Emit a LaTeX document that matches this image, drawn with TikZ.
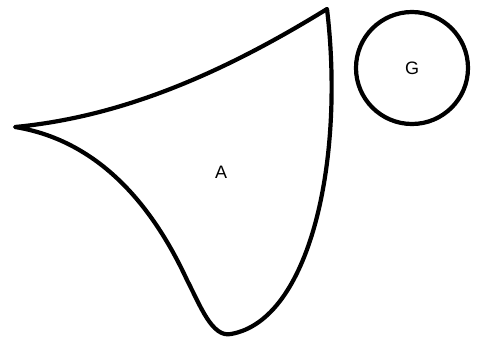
\documentclass[tikz,border=0pt]{standalone}
\usepackage{fontspec}
\setmainfont{Liberation Sans}
\begin{document}
\begin{tikzpicture}[x=1pt,y=-1pt,
  outline/.style={line width=4.2pt,line join=round,line cap=round},
  lbl/.style={font=\fontsize{18}{20}\selectfont,inner sep=0pt}]
\useasboundingbox (0,0) rectangle (487,340);
\draw[outline] (15,127) .. controls (120,117) and (220,75) .. (327,9)
  .. controls (345,160) and (310,320) .. (231,334)
  .. controls (212,338) and (200,305) .. (187,280)
  .. controls (150,200) and (95,140) .. (15,127) -- cycle;
\node[lbl] (A) at (221,172) {A};
\node[draw,circle,line width=4.2pt,minimum size=112pt,inner sep=0pt] (Gc) at (412,68) {};
\node[lbl] (G) at (412,68) {G};
\end{tikzpicture}
\end{document}
